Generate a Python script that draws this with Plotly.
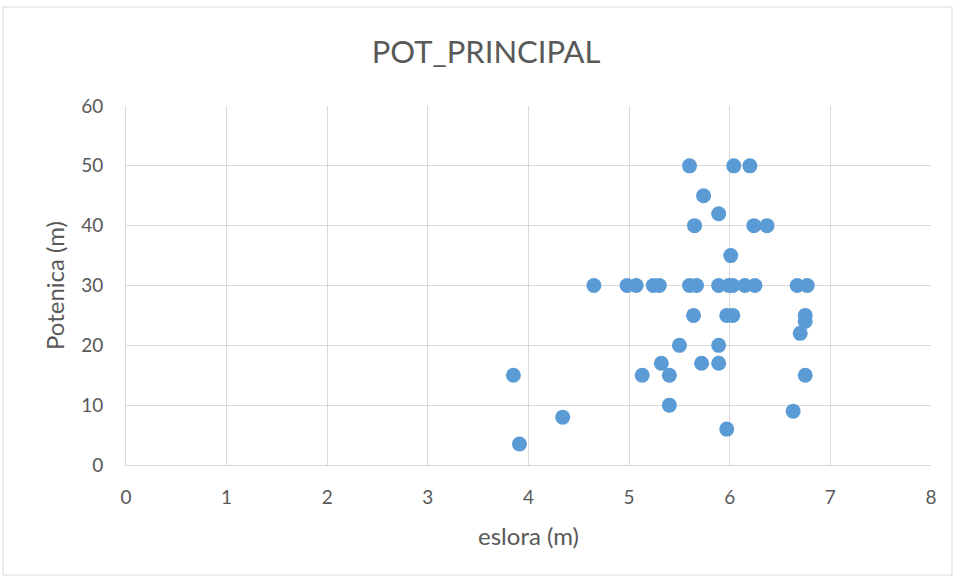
import plotly.graph_objects as go

eslora = [4.65, 4.98, 5.07, 5.24, 5.30, 5.60, 5.67, 5.89, 5.99, 6.03, 6.15, 6.25, 6.67, 6.77,
          5.60, 6.04, 6.20, 5.74, 5.89, 5.65, 6.24, 6.37, 6.01,
          5.64, 5.97, 6.03, 6.75, 6.75, 6.70, 5.50, 5.89, 5.32, 5.72, 5.89,
          5.13, 5.40, 6.75, 5.40, 6.63, 5.97, 3.85, 4.34, 3.91]
potencia = [30, 30, 30, 30, 30, 30, 30, 30, 30, 30, 30, 30, 30, 30,
            50, 50, 50, 45, 42, 40, 40, 40, 35,
            25, 25, 25, 25, 24, 22, 20, 20, 17, 17, 17,
            15, 15, 15, 10, 9, 6, 15, 8, 3.5]

x_ticks = [0, 1, 2, 3, 4, 5, 6, 7, 8]
y_ticks = [0, 10, 20, 30, 40, 50, 60]

FONT = "Lato, 'Open Sans', sans-serif"
GREY = "#595959"

fig = go.Figure(go.Scatter(
    x=eslora, y=potencia, mode="markers",
    marker=dict(color="#5B9BD5", size=15, line=dict(width=0)),
    hoverinfo="x+y"))

fig.update_layout(
    width=955, height=576,
    margin=dict(l=126, r=24, t=106, b=111),
    paper_bgcolor="white", plot_bgcolor="white",
    showlegend=False,
    font=dict(family=FONT, color=GREY),
    title=dict(text="POT_PRINCIPAL", x=0.509, xref="container", xanchor="center",
               y=1 - 52 / 576, yref="container", yanchor="middle",
               font=dict(size=31, color=GREY, family=FONT, weight=400)),
    xaxis=dict(range=[0, 8], tickvals=x_ticks, showgrid=True, gridcolor="#d9d9d9",
               gridwidth=1, zeroline=False, showline=True, linecolor="#d9d9d9",
               ticks="", tickfont=dict(size=19, color=GREY), ticklabelstandoff=15,
               title=dict(text="eslora (m)", font=dict(size=24, color=GREY), standoff=21),
               fixedrange=True),
    yaxis=dict(range=[0, 60], tickvals=y_ticks, showgrid=True, gridcolor="#d9d9d9",
               gridwidth=1, zeroline=False, showline=True, linecolor="#d9d9d9",
               ticks="", tickfont=dict(size=19, color=GREY), ticklabelstandoff=18,
               title=dict(text="Potenica (m)", font=dict(size=24, color=GREY), standoff=9),
               fixedrange=True),
    shapes=[dict(type="rect", xref="paper", yref="paper",
                 x0=(3 - 126) / 805, x1=(952 - 126) / 805,
                 y0=(465 - 575) / 359, y1=(465 - 7) / 359,
                 line=dict(color="#d9d9d9", width=1), layer="below")],
)

fig.write_html("out.html", config={"displayModeBar": False},
               post_script="document.body.style.margin='0';document.body.style.overflow='hidden';")
